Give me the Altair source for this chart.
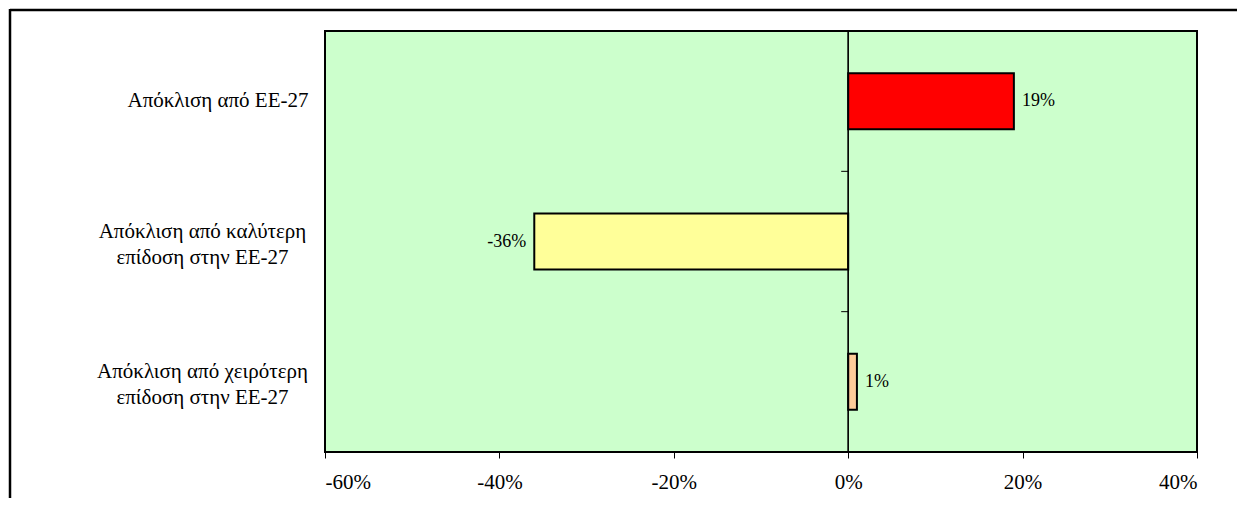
import altair as alt
import pandas as pd

categories = [
    "Απόκλιση από ΕΕ-27",
    "Απόκλιση από καλύτερη|επίδοση στην ΕΕ-27",
    "Απόκλιση από χειρότερη|επίδοση στην ΕΕ-27",
]
values = [19, -36, 1]
bar_colors = ["#FF0000", "#FFFF99", "#FFCC99"]
x_ticks = [-60, -40, -20, 0, 20, 40]

FONT = "Liberation Serif"
FS = 21
FS_VAL = 18

df = pd.DataFrame({"cat": categories, "val": values})

yscale = alt.Scale(domain=categories, paddingInner=0, paddingOuter=0)
xscale = alt.Scale(domain=[-60, 40], nice=False, zero=False)

x_axis = alt.Axis(
    values=x_ticks,
    labelExpr="datum.value + '%'",
    title=None,
    grid=False,
    domain=False,
    ticks=True,
    tickSize=6,
    tickColor="black",
    tickWidth=1,
    labelFont=FONT,
    labelFontSize=FS,
    labelColor="black",
    labelPadding=13,
)
MULTI = "indexof(datum.value, '|') >= 0"
# multi-line labels: lines centred on each other, block ending near the plot
y_axis = alt.Axis(
    title=None,
    domain=False,
    ticks=False,
    grid=False,
    labelExpr="split(datum.label, '|')",
    labelFont=FONT,
    labelFontSize=FS,
    labelColor="black",
    labelLimit=500,
    labelLineHeight=26.5,
    labelAlign={"condition": {"test": MULTI, "value": "center"}, "value": "right"},
    labelPadding={"condition": {"test": MULTI, "value": 123}, "value": 17},
    labelOffset={"condition": {"test": MULTI, "value": -10}, "value": 0},
)

x_enc = alt.X("val:Q", scale=xscale, axis=x_axis)
y_enc = alt.Y("cat:N", scale=yscale, sort=categories, axis=y_axis)

base = alt.Chart(df)

bars = base.mark_bar(size=56, stroke="black", strokeWidth=2).encode(
    x=x_enc,
    x2=alt.datum(0),
    y=y_enc,
    color=alt.Color(
        "cat:N",
        scale=alt.Scale(domain=categories, range=bar_colors),
        legend=None,
    ),
)

zero_line = base.transform_calculate(z="0").mark_rule(color="black", strokeWidth=1).encode(
    x=alt.X("z:Q", scale=xscale, axis=x_axis)
)

zero_ticks = base.transform_filter(
    alt.FieldOneOfPredicate(field="cat", oneOf=categories[1:])
).transform_calculate(z="0").mark_rule(color="black", strokeWidth=1, x2Offset=-7).encode(
    x=alt.X("z:Q", scale=xscale, axis=x_axis),
    x2="z:Q",
    y=alt.Y("cat:N", scale=yscale, sort=categories, axis=y_axis, bandPosition=0),
)

pos_text = base.transform_filter("datum.val >= 0").transform_calculate(
    lab="datum.val + '%'"
).mark_text(align="left", baseline="middle", dx=8, font=FONT, fontSize=FS_VAL, color="black").encode(
    x=x_enc,
    y=y_enc,
    text="lab:N",
)

neg_text = base.transform_filter("datum.val < 0").transform_calculate(
    lab="datum.val + '%'"
).mark_text(align="right", baseline="middle", dx=-8, font=FONT, fontSize=FS_VAL, color="black").encode(
    x=x_enc,
    y=y_enc,
    text="lab:N",
)

frame_df = pd.DataFrame({"k": [0]})
frame_top = alt.Chart(frame_df).mark_rule(color="black", strokeWidth=2.5).encode(
    x=alt.value(-315), x2=alt.value(1000), y=alt.value(-21)
)
frame_left = alt.Chart(frame_df).mark_rule(color="black", strokeWidth=2.5).encode(
    x=alt.value(-315), y=alt.value(-22), y2=alt.value(480)
)

chart = (
    alt.layer(bars, zero_line, zero_ticks, pos_text, neg_text, frame_top, frame_left)
    .properties(
        width=872,
        height=421,
        autosize=alt.AutoSizeParams(type="none"),
        padding={"left": 317, "top": 23, "right": 40, "bottom": 46},
        background="white",
    )
    .configure_view(fill="#CCFFCC", stroke="black", strokeWidth=2)
)

chart.save("out.html", embed_options={"renderer": "svg", "actions": False})
